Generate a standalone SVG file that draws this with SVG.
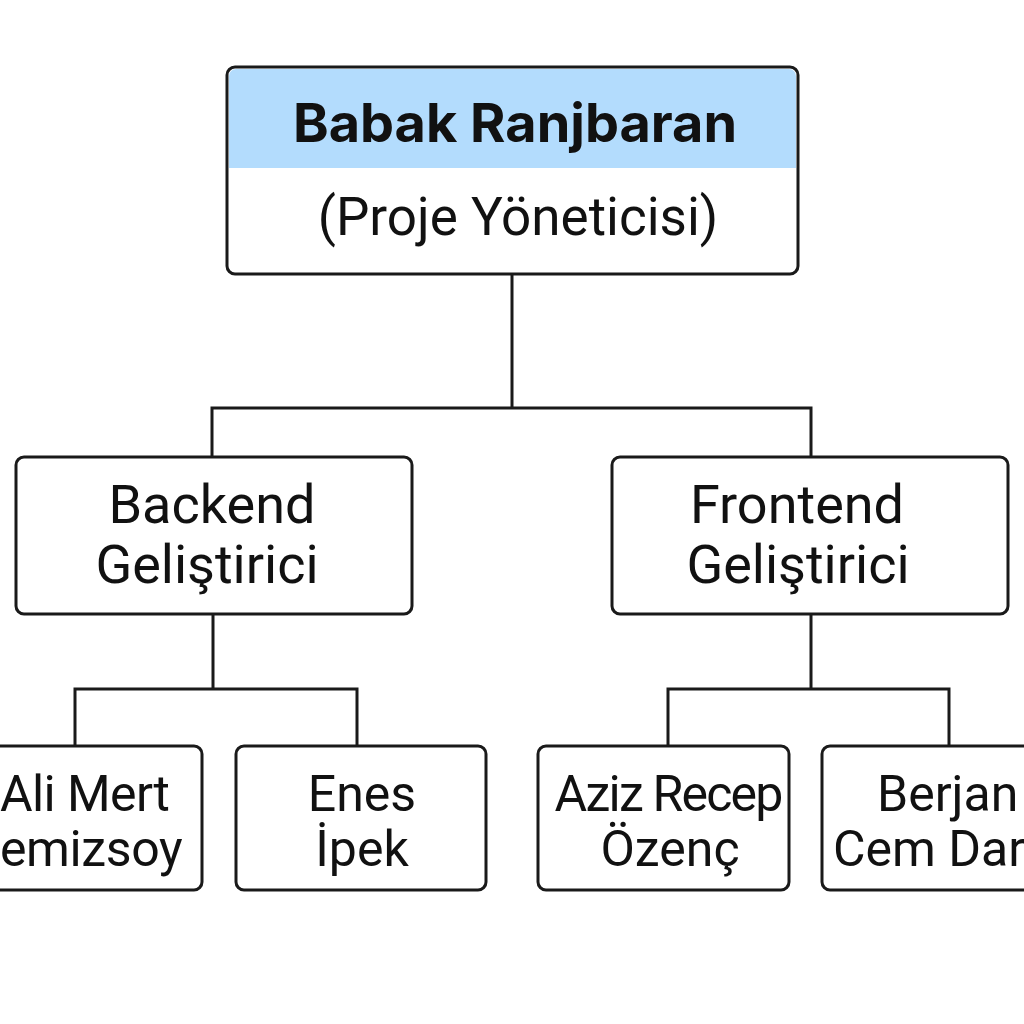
<svg xmlns="http://www.w3.org/2000/svg" width="1024" height="1024" viewBox="0 0 1024 1024">
<style>
.box{fill:#fff;stroke:#1a1a1a;stroke-width:3}
.ln{fill:none;stroke:#1a1a1a;stroke-width:3}
.t{font-family:Roboto,"Liberation Sans",sans-serif;font-size:50px;fill:#111;text-anchor:middle}
.m{font-size:54px}
.b{font-family:Inter,Roboto,sans-serif;font-weight:700;font-size:54px;fill:#111;text-anchor:middle}
</style>
<rect width="1024" height="1024" fill="#fff"/>
<g id="connectors">
<path class="ln" d="M512 274V408M212 457V408H811V457"/>
<path class="ln" d="M213 614V689M75 746V689H357V746"/>
<path class="ln" d="M811 614V689M668 746V689H949V746"/>
</g>
<g id="root">
<path d="M229 76a7 7 0 0 1 7-7h553a7 7 0 0 1 7 7v92H229z" fill="#b3dcfd"/>
<rect x="227" y="67" width="571" height="207" rx="8" fill="none" stroke="#1a1a1a" stroke-width="3"/>
<text class="b" x="515" y="142">Babak Ranjbaran</text>
<text class="t" x="518" y="235" style="font-size:53px">(Proje Yöneticisi)</text>
</g>
<g id="backend">
<rect class="box" x="16" y="457" width="396" height="157" rx="8"/>
<text class="t m" x="212" y="523">Backend</text>
<text class="t m" x="207" y="583">Geliştirici</text>
</g>
<g id="frontend">
<rect class="box" x="612" y="457" width="396" height="157" rx="8"/>
<text class="t m" x="797" y="523">Frontend</text>
<text class="t m" x="798" y="583">Geliştirici</text>
</g>
<g id="ali">
<rect class="box" x="-60" y="746" width="262" height="144" rx="8"/>
<text class="t" x="0" y="811" style="text-anchor:start;letter-spacing:-0.6px">Ali Mert</text>
<text class="t" x="0" y="866" style="text-anchor:start;letter-spacing:-0.4px">emizsoy</text>
</g>
<g id="enes">
<rect class="box" x="236" y="746" width="250" height="144" rx="8"/>
<text class="t" x="362" y="811">Enes</text>
<text class="t" x="362" y="866">İpek</text>
</g>
<g id="aziz">
<rect class="box" x="538" y="746" width="251" height="144" rx="8"/>
<text class="t" x="668" y="811" style="letter-spacing:-1.8px">Aziz Recep</text>
<text class="t" x="670" y="866">Özenç</text>
</g>
<g id="berjan">
<rect class="box" x="822" y="746" width="260" height="144" rx="8"/>
<text class="t" x="877" y="811" style="text-anchor:start">Berjan</text>
<text class="t" x="833" y="866" style="text-anchor:start">Cem Dar</text>
</g>
</svg>
